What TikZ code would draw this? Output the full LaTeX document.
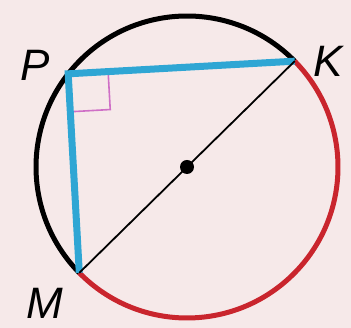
\documentclass[tikz,border=0pt]{standalone}
\usepackage{fontspec}
\setsansfont{Liberation Sans}
\usetikzlibrary{calc}
\definecolor{bgpink}{HTML}{F6E9E9}
\definecolor{chordblue}{HTML}{2FA6D4}
\definecolor{arcred}{HTML}{C9252D}
\definecolor{markpink}{HTML}{CF6FC6}

\begin{document}
\begin{tikzpicture}[x=1pt, y=1pt,
    rim/.style={line width=5pt, draw=#1},
    chord/.style={line width=7pt, draw=chordblue, line join=miter},
    lbl/.style={font=\sffamily\itshape\fontsize{44}{44}\selectfont, inner sep=0pt},
]
    % Background
    \fill[bgpink] (0,0) rectangle (351,328);
    \useasboundingbox (0,0) rectangle (351,328);

    % Points
    \coordinate (O) at (187,161);
    \coordinate (K) at ($(O)+(44.5:151)$);
    \coordinate (M) at ($(O)+(224.5:151)$);
    \coordinate (P) at ($(O)+(141.9:151)$);

    % Circle
    \draw[rim=black] (K) arc[start angle=44.5, end angle=224.5, radius=151];
    \draw[rim=arcred] (M) arc[start angle=224.5, end angle=404.5, radius=151];

    % Right angle
    \coordinate (ra) at ($(P)!40pt!(K)$);
    \coordinate (rb) at ($(P)!38pt!(M)$);
    \coordinate (rc) at ($(ra)+(rb)-(P)$);
    \draw[markpink, line width=1.6pt] (ra) -- (rc) -- (rb);

    % Chords
    \draw[chord] (K) -- (P) -- (M);
    \draw[line width=1.8pt] (K) -- (M);
    \fill (O) circle[radius=7];

    % Labels
    \node[lbl] (lP) at (35,263) {P};
    \node[lbl] (lK) at (328,267) {K};
    \node[lbl] (lM) at (45,25) {M};
\end{tikzpicture}
\end{document}
